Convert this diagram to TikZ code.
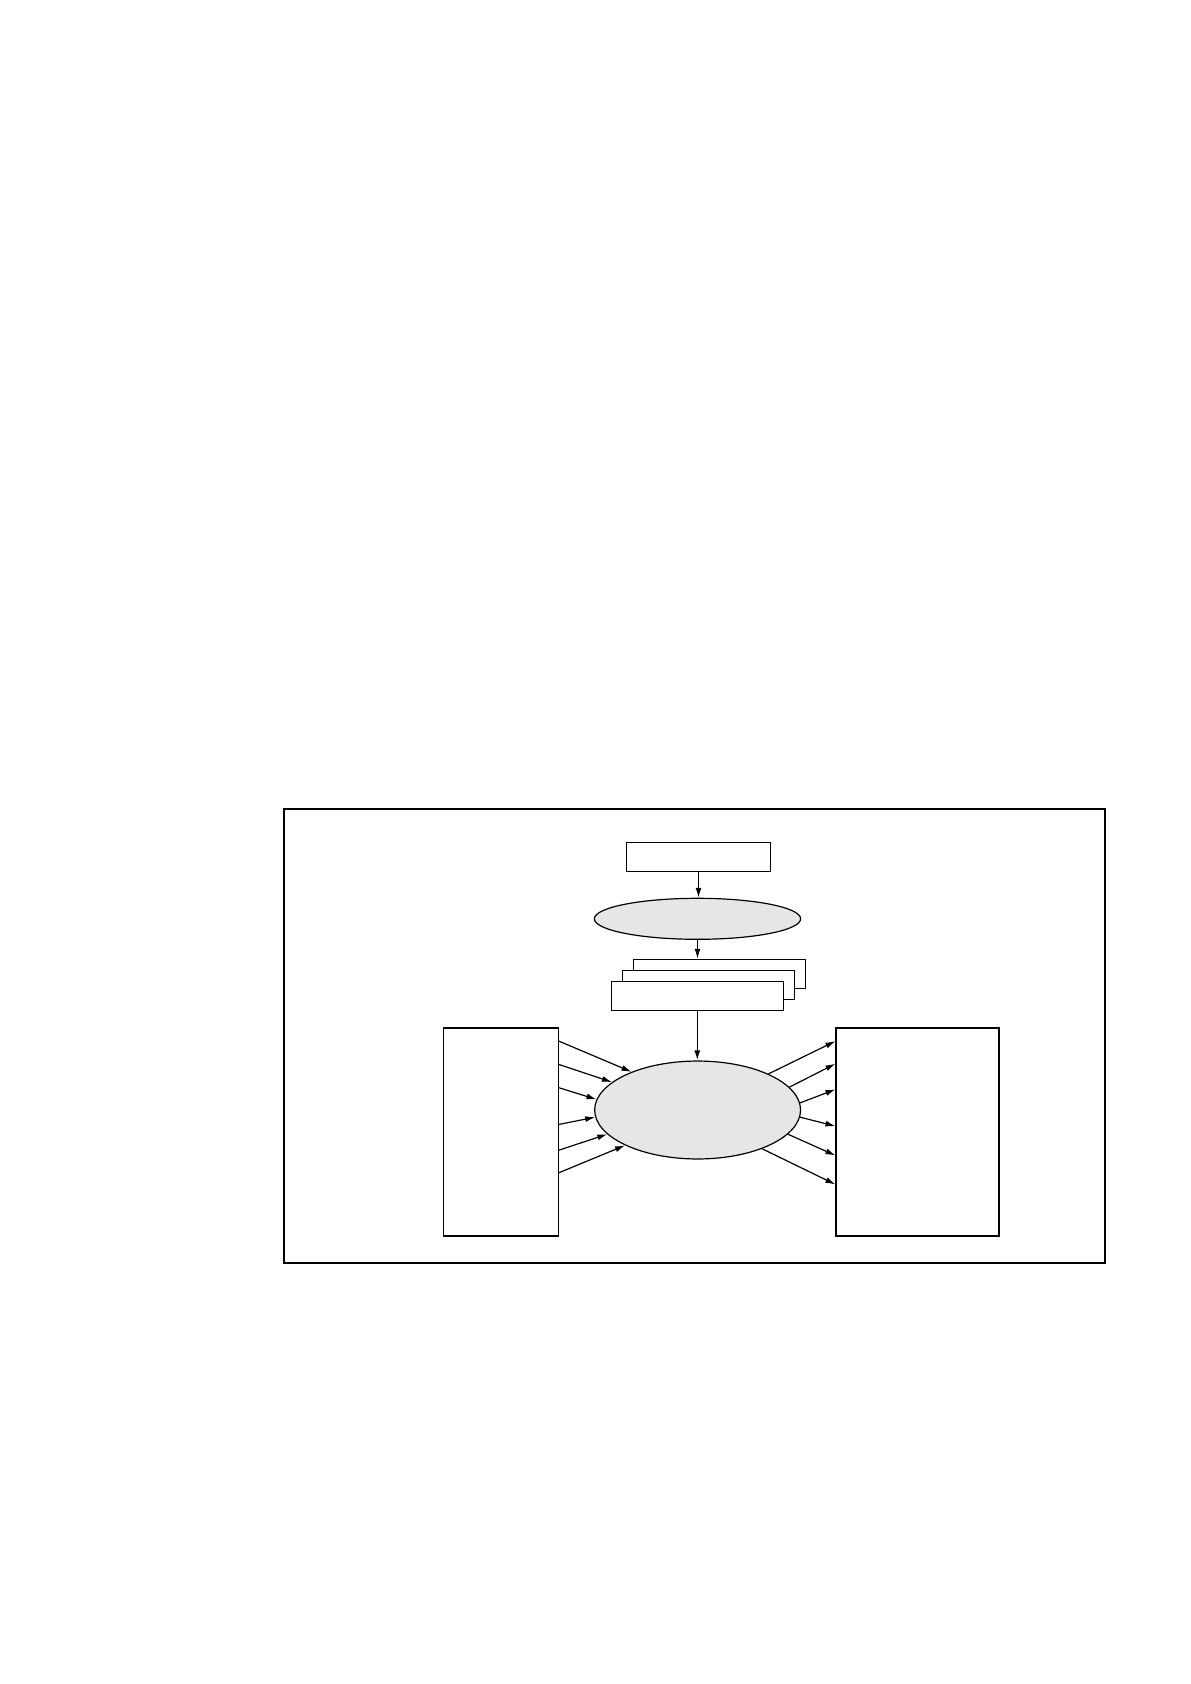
\documentclass[tikz,border=0pt]{standalone}
\usetikzlibrary{shapes.geometric,arrows.meta,calc}
\definecolor{ovalgray}{RGB}{230,230,232}
\tikzset{
  box/.style={draw,semithick,minimum height=0.512cm,inner sep=0pt,fill=white},
  oval/.style={ellipse,draw,semithick,fill=ovalgray,inner sep=0pt},
  arr/.style={-{Latex[length=5pt,width=3pt]},semithick}
}

\begin{document}
\begin{tikzpicture}[x=0.017647cm,y=-0.017647cm]
  \useasboundingbox (0,0) rectangle (1190,1684);

  %外枠
  \draw[line width=1.1pt] (284,809) rectangle (1105,1263);

  %上の箱と楕円
  \node[box,minimum width=2.548cm] (src) at (698.5,856.8) {};
  \node[oval,minimum width=3.642cm,minimum height=0.724cm] (proc) at (697.5,918.8) {};

  %重なった箱
  \node[box,minimum width=3.042cm] (stackC) at (719.5,973.8) {};
  \node[box,minimum width=3.042cm] (stackB) at (708.4,984.8) {};
  \node[box,minimum width=3.042cm] (stackA) at (697.3,995.8) {};

  %中央の楕円と左右の箱
  \node[oval,minimum width=3.635cm,minimum height=1.729cm] (core) at (697.6,1110) {};
  \node[box,minimum width=2.024cm,minimum height=3.671cm] (inbox) at (501,1132) {};
  \node[box,minimum width=2.876cm,minimum height=3.671cm] (outbox) at (917.5,1132) {};

  %矢印
  \draw[arr] (src.south) -- (src.south |- proc.north);
  \draw[arr] (proc.south) -- (proc.south |- stackC.north);
  \draw[arr,thick] (stackA.south) -- (stackA.south |- core.north);

  %左から入る矢印
  \foreach \dy/\ang in {13.7/150.5,37/162,60.3/174,97/184,122.7/195,145.3/206}
    \draw[arr] ($(inbox.north east)+(0,\dy)$) -- (core.\ang);

  %右へ出る矢印
  \foreach \ang/\dy in {27.4/13.7,14.8/36.3,4.7/62,356.6/98.7,345.2/128,329/157}
    \draw[arr] (core.\ang) -- ($(outbox.north west)+(0,\dy)$);
\end{tikzpicture}
\end{document}
